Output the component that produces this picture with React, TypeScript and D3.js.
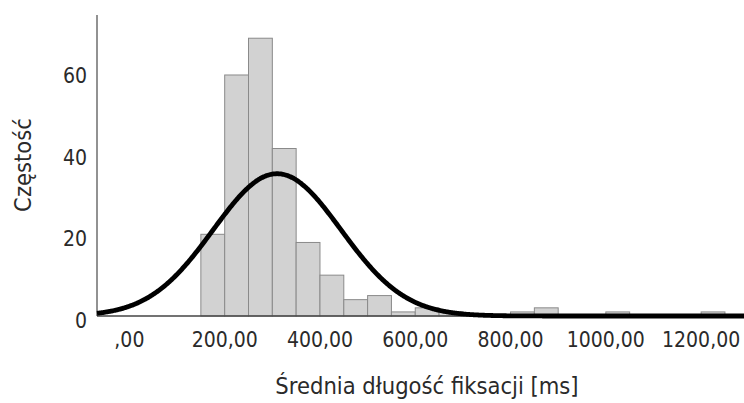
import React from "react";
import * as d3 from "d3";

const binStarts = [150, 200, 250, 300, 350, 400, 450, 500, 550, 600, 650, 800, 850, 1000, 1200];
const binCounts = [20, 59, 68, 41, 18, 10, 4, 5, 1, 2, 1, 1, 2, 1, 1];
const BIN_WIDTH = 50;
const xTicks = [0, 200, 400, 600, 800, 1000, 1200];
const yTicks = [0, 20, 40, 60];
const FIT_MEAN = 310;
const FIT_SD = 134;
const FIT_N = 234;

const W = 744;
const H = 403;
const LEFT = 97;
const RIGHT = 744;
const BASE = 316;
const FONT = "'DejaVu Sans Condensed', 'DejaVu Sans', sans-serif";

export default function App() {
  const x = d3.scaleLinear().domain([-68, 1290]).range([LEFT, RIGHT]);
  const y = d3.scaleLinear().domain([0, 60]).range([BASE, BASE - 60 * 4.085]);

  const curvePts: [number, number][] = d3.range(-68, 1291, 2).map((v) => {
    const z = (v - FIT_MEAN) / FIT_SD;
    const f = (FIT_N * BIN_WIDTH) / (FIT_SD * Math.sqrt(2 * Math.PI)) * Math.exp(-0.5 * z * z);
    return [v, f];
  });
  const line = d3
    .line<[number, number]>()
    .x((d) => x(d[0]))
    .y((d) => y(d[1]))
    .curve(d3.curveBasis);

  return (
    <svg
      width={W}
      height={H}
      style={{ position: "absolute", left: 0, top: 0, background: "#fff" }}
    >
      <rect x={0} y={0} width={W} height={H} fill="#fff" />
      {binStarts.map((s, i) => (
        <rect
          key={i}
          x={x(s)}
          y={y(binCounts[i])}
          width={x(s + BIN_WIDTH) - x(s)}
          height={BASE - y(binCounts[i])}
          fill="#d2d2d2"
          stroke="#8a8a8a"
          strokeWidth={1}
        />
      ))}
      <line x1={LEFT} x2={LEFT} y1={15} y2={BASE} stroke="#6e6e6e" strokeWidth={1.5} />
      <line x1={LEFT} x2={RIGHT} y1={BASE} y2={BASE} stroke="#444" strokeWidth={1.5} />
      <path d={line(curvePts) || ""} fill="none" stroke="#000" strokeWidth={4.8} />
      {yTicks.map((t) => (
        <text
          key={t}
          x={87}
          y={y(t) + 12}
          textAnchor="end"
          fontFamily={FONT}
          fontSize={21}
          fill="#2a2a2a"
        >
          {t}
        </text>
      ))}
      {xTicks.map((t) => (
        <text
          key={t}
          x={x(t)}
          y={347}
          textAnchor="middle"
          fontFamily={FONT}
          fontSize={21}
          fill="#2a2a2a"
        >
          {t === 0 ? ",00" : `${t},00`}
        </text>
      ))}
      <text
        x={427}
        y={394}
        textAnchor="middle"
        fontFamily={FONT}
        fontSize={23.5}
        fill="#2a2a2a"
      >
        Średnia długość fiksacji [ms]
      </text>
      <text
        transform={`translate(31,165) rotate(-90)`}
        textAnchor="middle"
        fontFamily={FONT}
        fontSize={23.5}
        fill="#2a2a2a"
      >
        Częstość
      </text>
    </svg>
  );
}
